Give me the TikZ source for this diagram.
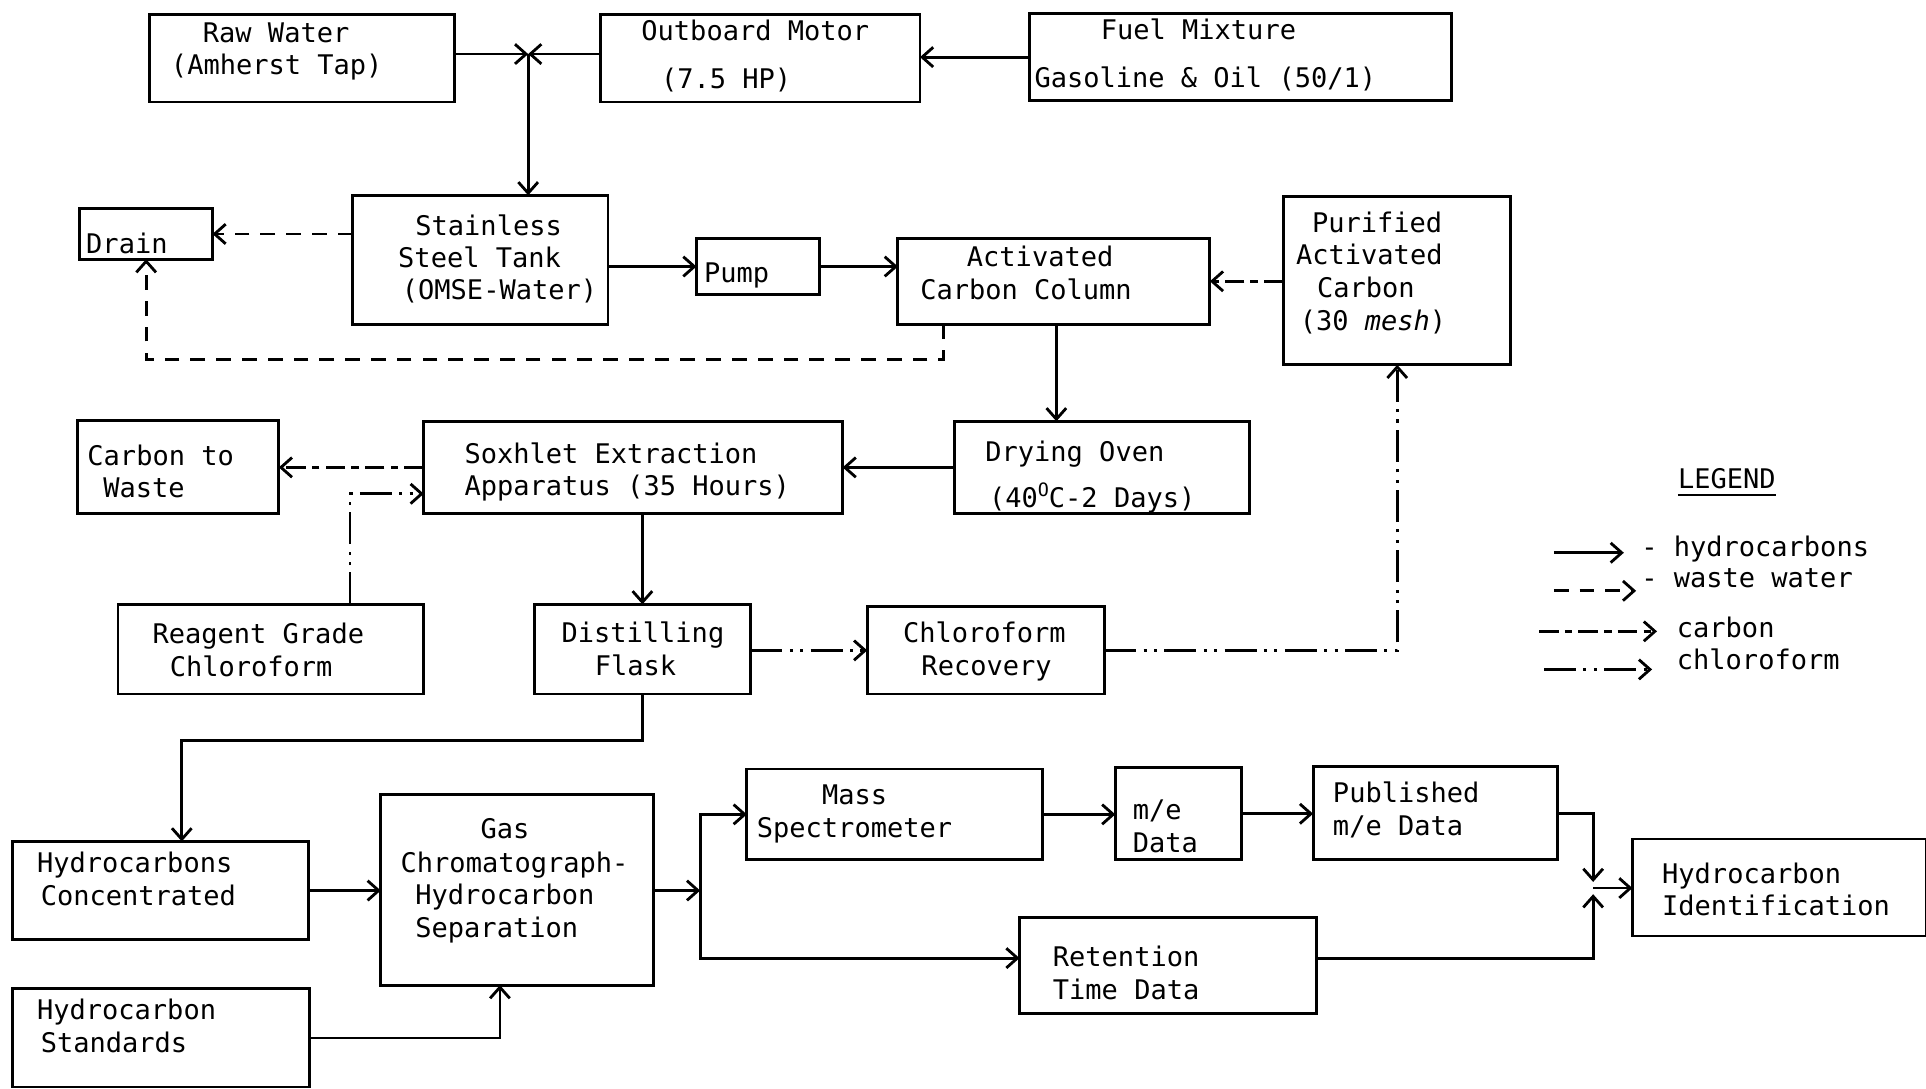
\documentclass[tikz,border=0pt]{standalone}
\usepackage{fontspec}
\setmainfont{DejaVu Sans Mono}
\usetikzlibrary{arrows.meta}
\newcommand\bx[5]{\node[box,anchor=north west,minimum width={(#4)-(#2)},minimum height={(#5)-(#3)}] (#1) at (#2,#3) {};}
\newcommand\tx[4]{\node[txt] (#1) at (#2,#3) {#4};}
\begin{document}
\begin{tikzpicture}[x=1pt,y=-1pt,
  box/.style={draw,line width=2.3pt,inner sep=0pt,outer sep=0pt},
  txt/.style={inner sep=0pt,anchor=base west,font=\fontsize{22}{27}\selectfont},
  flow/.style={line width=2.3pt,-{Straight Barb[length=9pt,width=16pt,line width=2.3pt]}},
  ww/.style={flow,dash pattern=on 12pt off 9pt},
  carb/.style={flow,dash pattern=on 16pt off 5pt on 6pt off 5pt},
  chl/.style={flow,dash pattern=on 26pt off 6pt on 2.5pt off 6pt on 2.5pt off 6pt}]
\fill[white] (0,0) rectangle (1568,886);
\useasboundingbox (0,0) rectangle (1568,886);
% boxes
\bx{raw}{122}{12}{370}{83}
\bx{motor}{489}{12}{749}{83}
\bx{fuel}{838}{11}{1182}{82}
\bx{tank}{287}{159}{495}{264}
\bx{drain}{65}{170}{173}{211}
\bx{pump}{567}{194}{667}{240}
\bx{acc}{731}{194}{985}{264}
\bx{pur}{1045}{160}{1230}{297}
\bx{oven}{777}{343}{1017}{418}
\bx{sox}{345}{343}{686}{418}
\bx{cw}{63}{342}{227}{418}
\bx{reag}{96}{492}{345}{565}
\bx{dist}{435}{492}{611}{565}
\bx{crec}{706}{494}{899}{565}
\bx{hcc}{10}{685}{251}{765}
\bx{gc}{310}{647}{532}{802}
\bx{hst}{10}{805}{252}{885}
\bx{ms}{608}{626}{849}{700}
\bx{me}{908}{625}{1011}{700}
\bx{pub}{1069}{624}{1268}{700}
\bx{hid}{1329}{683}{1568}{762}
\bx{ret}{830}{747}{1072}{825}
% texts
\tx{t1}{165}{35}{Raw Water}
\tx{t2}{139}{61}{(Amherst Tap)}
\tx{t3}{522}{33}{Outboard Motor}
\tx{t4}{538}{72}{(7.5 HP)}
\tx{t5}{896}{32}{Fuel Mixture}
\tx{t6}{842}{71}{Gasoline \& Oil (50/1)}
\tx{t7}{70}{206}{Drain}
\tx{t8}{338}{192}{Stainless}
\tx{t9}{324}{218}{Steel Tank}
\tx{t10}{327}{244}{(OMSE-Water)}
\tx{t11}{573}{230}{Pump}
\tx{t12}{787}{217}{Activated}
\tx{t13}{749}{244}{Carbon Column}
\tx{t14}{1068}{189}{Purified}
\tx{t15}{1055}{215}{Activated}
\tx{t16}{1072}{242}{Carbon}
\tx{t17}{1058}{269}{(30 \textit{mesh})}
\tx{t18}{71}{379}{Carbon to}
\tx{t19}{84}{405}{Waste}
\tx{t20}{378}{377}{Soxhlet Extraction}
\tx{t21}{378}{403}{Apparatus (35 Hours)}
\tx{t22}{802}{376}{Drying Oven}
\tx{t23}{805}{413}{(40\raisebox{9pt}{\fontsize{15}{15}\selectfont O}C-2 Days)}
\tx{t24}{124}{524}{Reagent Grade}
\tx{t25}{138}{551}{Chloroform}
\tx{t26}{457}{523}{Distilling}
\tx{t27}{484}{550}{Flask}
\tx{t28}{735}{523}{Chloroform}
\tx{t29}{750}{550}{Recovery}
\tx{t30}{30}{710}{Hydrocarbons}
\tx{t31}{33}{737}{Concentrated}
\tx{t32}{391}{683}{Gas}
\tx{t33}{326}{710}{Chromatograph-}
\tx{t34}{338}{736}{Hydrocarbon}
\tx{t35}{338}{763}{Separation}
\tx{t36}{30}{830}{Hydrocarbon}
\tx{t37}{33}{857}{Standards}
\tx{t38}{669}{655}{Mass}
\tx{t39}{616}{682}{Spectrometer}
\tx{t40}{922}{667}{m/e}
\tx{t41}{922}{694}{Data}
\tx{t42}{1085}{653}{Published}
\tx{t43}{1085}{680}{m/e Data}
\tx{t44}{857}{787}{Retention}
\tx{t45}{857}{814}{Time Data}
\tx{t46}{1353}{719}{Hydrocarbon}
\tx{t47}{1353}{745}{Identification}
\tx{t48}{1366}{398}{LEGEND}
\tx{t49}{1336}{453}{- hydrocarbons}
\tx{t50}{1336}{478}{- waste water}
\tx{t51}{1365}{519}{carbon}
\tx{t52}{1365}{545}{chloroform}
\draw[line width=2.3pt] (t48.base west) ++(0,5) -- ++(80,0);
% helper coordinates
\coordinate (j1) at (430,44);
\coordinate (f1) at (768,293);
\coordinate (h1) at (860,0);
\coordinate (k1) at (285,402);
\coordinate (o1) at (148,603);
\coordinate (q1) at (407,0);
\coordinate (j2) at (570,725);
\coordinate (r1) at (570,780);
\coordinate (j3a) at (1297,718);
\coordinate (j3b) at (1297,728);
\coordinate (j3) at (1297,723);
% connectors
\draw[flow] (raw.east |- j1) -- (j1);
\draw[flow] (motor.west |- j1) -- (j1);
\draw[flow] (j1) -- (tank.north -| j1);
\draw[flow] (fuel.west) -- (fuel.west -| motor.east);
\draw[ww] (tank.west |- drain.east) -- (drain.east);
\draw[flow] (tank.east |- pump.west) -- (pump.west);
\draw[flow] (pump.east) -- (pump.east -| acc.west);
\draw[ww] (acc.south -| f1) -- (f1) -| (drain.south);
\draw[carb] (pur.west |- acc.east) -- (acc.east);
\draw[flow] (acc.south -| h1) -- (oven.north -| h1);
\draw[flow] (oven.west) -- (oven.west -| sox.east);
\draw[carb] (sox.west) -- (sox.west -| cw.east);
\draw[chl] (reag.north -| k1) -- (k1) -- (sox.west |- k1);
\draw[flow] (dist.north |- sox.south) -- (dist.north);
\draw[chl] (dist.east |- crec.west) -- (crec.west);
\draw[chl] (crec.east) -| (pur.south);
\draw[flow] (dist.south) |- (o1) -- (o1 |- hcc.north);
\draw[flow] (hcc.east) -- (hcc.east -| gc.west);
\draw[flow] (hst.east) -| (gc.south -| q1);
\draw[flow] (gc.east |- j2) -- (j2);
\draw[flow] (j2) |- (ms.west);
\draw[flow] (j2) -- (r1) -- (r1 -| ret.west);
\draw[flow] (ms.east) -- (ms.east -| me.west);
\draw[flow] (me.east) -- (me.east -| pub.west);
\draw[flow] (pub.east) -| (j3a);
\draw[flow] (ret.east |- r1) -| (j3b);
\draw[flow] (j3) -- (j3 -| hid.west);
% legend
\coordinate (l1a) at (1265,450); \coordinate (l1b) at (1322,450);
\coordinate (l2a) at (1265,481); \coordinate (l2b) at (1332,481);
\coordinate (l3a) at (1253,514); \coordinate (l3b) at (1349,514);
\coordinate (l4a) at (1257,545); \coordinate (l4b) at (1345,545);
\draw[flow] (l1a) -- (l1b);
\draw[ww] (l2a) -- (l2b);
\draw[carb] (l3a) -- (l3b);
\draw[chl] (l4a) -- (l4b);
\end{tikzpicture}
\end{document}
